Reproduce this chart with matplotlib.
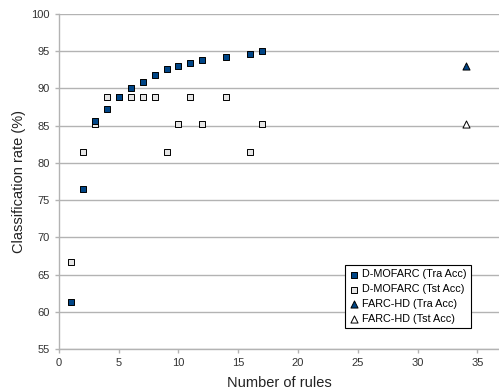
import numpy as np
import matplotlib
matplotlib.use("Agg")
import matplotlib.pyplot as plt

plt.rcParams['font.family'] = ['Liberation Sans', 'DejaVu Sans']

# D-MOFARC results
dm_rules = [1, 2, 3, 4, 5, 6, 7, 8, 9, 10, 11, 12, 14, 16, 17]
dm_tra = [61.3, 76.5, 85.6, 87.2, 88.9, 90.1, 90.9, 91.8, 92.6, 93.0, 93.4, 93.8, 94.2, 94.6, 95.0]
dm_tst = [66.7, 81.5, 85.2, 88.9, 88.9, 88.9, 88.9, 88.9, 81.5, 85.2, 88.9, 85.2, 88.9, 81.5, 85.2]

# FARC-HD results
fh_rules = [34]
fh_tra = [93.0]
fh_tst = [85.2]

blue = '#004586'
light = '#e6e6e6'
grey = '#b3b3b3'

fig = plt.figure(figsize=(4.99, 3.89), dpi=100)
ax = fig.add_axes([0.118, 0.103, 0.882, 0.861])

ax.scatter(dm_rules, dm_tra, marker='s', s=22, c=blue, edgecolors='black', linewidths=0.7,
           label='D-MOFARC (Tra Acc)', zorder=3)
ax.scatter(dm_rules, dm_tst, marker='s', s=22, c=light, edgecolors='black', linewidths=0.7,
           label='D-MOFARC (Tst Acc)', zorder=2)
ax.scatter(fh_rules, fh_tra, marker='^', s=26, c=blue, edgecolors='black', linewidths=0.7,
           label='FARC-HD (Tra Acc)', zorder=3)
ax.scatter(fh_rules, fh_tst, marker='^', s=26, c='white', edgecolors='black', linewidths=0.7,
           label='FARC-HD (Tst Acc)', zorder=3)

ax.set_xlim(0, 36.8)
ax.set_ylim(55, 100)
ax.set_xticks(np.arange(0, 36, 5))
ax.set_yticks(np.arange(55, 101, 5))
ax.yaxis.grid(True, color=grey, linewidth=1)
ax.set_axisbelow(True)

for side in ['top', 'right']:
    ax.spines[side].set_visible(False)
for side in ['left', 'bottom']:
    ax.spines[side].set_color(grey)
    ax.spines[side].set_linewidth(1)
ax.tick_params(axis='both', colors=grey, labelcolor='#333333', labelsize=8,
               length=3, width=1, direction='out')

ax.set_xlabel('Number of rules', fontsize=10.5, color='#222222', labelpad=6)
ax.set_ylabel('Classification rate (%)', fontsize=10.5, color='#222222')

leg = ax.legend(loc='lower right', bbox_to_anchor=(0.948, 0.045), fontsize=7.8,
                frameon=True, fancybox=False, edgecolor='black', framealpha=1,
                handletextpad=0.2, borderpad=0.4, labelspacing=0.45,
                handlelength=1.0, scatterpoints=1)
leg.get_frame().set_linewidth(0.8)

fig.savefig('out.png', dpi=100)
